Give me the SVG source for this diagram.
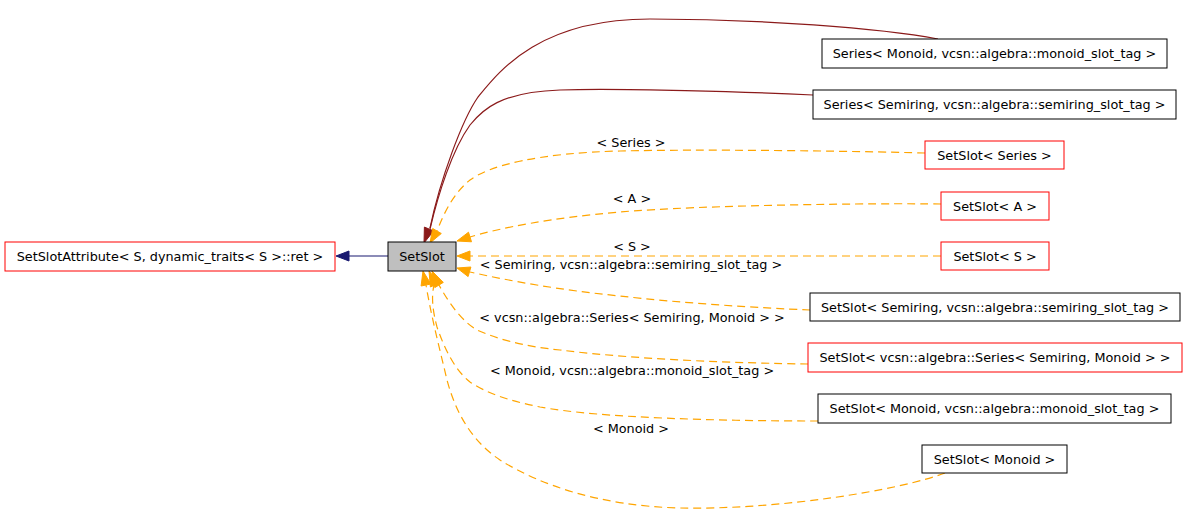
<svg xmlns="http://www.w3.org/2000/svg" width="1187" height="529" viewBox="0 0 1187 529">
<style>
text{font-family:"DejaVu Sans","Liberation Sans",sans-serif;font-size:12.8px;fill:#000;text-anchor:middle}
.nb{fill:#fff;stroke:#000;stroke-width:1}
.nr{fill:#fff;stroke:#ff0000;stroke-width:1}
.ng{fill:#bfbfbf;stroke:#000;stroke-width:1}
.eo{fill:none;stroke:#ffa500;stroke-width:1.2;stroke-dasharray:8,5}
.er{fill:none;stroke:#8b1a1a;stroke-width:1.2}
.en{fill:none;stroke:#191970;stroke-width:1.2}
.ao{fill:#ffa500;stroke:#ffa500}
.ar{fill:#8b1a1a;stroke:#8b1a1a}
.an{fill:#191970;stroke:#191970}
</style>
<rect width="1187" height="529" fill="#fff"/>
<g id="connectors">
<path class="en" d="M388,256 H349"/>
<polygon class="an" points="349,251 336,256 349,261"/>
<path class="er" d="M938,39 C880,28 760,19 650,19 C540,19 500,70 478,97 C462,120 440,180 430,228"/>
<path class="er" d="M813,95 C750,92 620,88 560,90 C500,92 482,110 470,125 C452,150 438,195 430,229"/>
<polygon class="ar" points="424.4,227.1 433.6,230.9 424,243"/>
<path class="eo" d="M925,153 C850,151 700,149 620,151 C540,153 490,165 470,180 C455,192 445,210 437,231"/>
<polygon class="ao" points="432.7,228.5 441.3,233.5 430,243"/>
<path class="eo" d="M941,204 C880,203 700,205 620,212 C550,218 500,228 470,237"/>
<polygon class="ao" points="468.5,232.2 471.5,241.8 457,241"/>
<path class="eo" d="M941,256 H470"/>
<polygon class="ao" points="470,251 457,256 470,261"/>
<path class="eo" d="M810,310 C760,308 680,303 620,296 C560,290 510,281 470,272"/>
<polygon class="ao" points="470.9,267 468.1,276.6 457,268"/>
<path class="eo" d="M808,364 C740,363 640,360 560,350 C520,346 495,338 477,330 C463,322 450,305 439,285"/>
<polygon class="ao" points="443.3,282.4 434.8,287.6 432,271"/>
<path class="eo" d="M818,421 C720,421 600,418 540,407 C505,400 485,392 470,382 C455,370 445,350 437,327 C433,312 431,298 434,285"/>
<polygon class="ao" points="439.6,283 430.4,287 429,271"/>
<path class="eo" d="M945,473 C900,490 780,510 680,508 C600,506 540,485 500,460 C470,440 455,410 447,380 C440,350 432,320 426,285"/>
<polygon class="ao" points="430.9,284 421.1,286 423,271"/>
<text x="631" y="146.5">&lt; Series &gt;</text>
<text x="632" y="202.5">&lt; A &gt;</text>
<text x="632" y="250.5">&lt; S &gt;</text>
<text x="631" y="268.5">&lt; Semiring, vcsn::algebra::semiring_slot_tag &gt;</text>
<text x="632" y="321.5">&lt; vcsn::algebra::Series&lt; Semiring, Monoid &gt; &gt;</text>
<text x="632" y="374.5">&lt; Monoid, vcsn::algebra::monoid_slot_tag &gt;</text>
<text x="631" y="432.5">&lt; Monoid &gt;</text>
</g>
<g id="node-SetSlotAttribute"><rect class="nr" x="5" y="242" width="330" height="29"/><text x="170" y="261">SetSlotAttribute&lt; S, dynamic_traits&lt; S &gt;::ret &gt;</text></g>
<g id="node-SetSlot"><rect class="ng" x="388" y="242" width="68" height="29"/><text x="422" y="261">SetSlot</text></g>
<g id="node-SeriesMonoid"><rect class="nb" x="822" y="39" width="345" height="29"/><text x="994.5" y="58">Series&lt; Monoid, vcsn::algebra::monoid_slot_tag &gt;</text></g>
<g id="node-SeriesSemiring"><rect class="nb" x="813" y="90" width="363" height="29"/><text x="994.5" y="109">Series&lt; Semiring, vcsn::algebra::semiring_slot_tag &gt;</text></g>
<g id="node-SetSlotSeries"><rect class="nr" x="925" y="141" width="139" height="28"/><text x="994.5" y="159.5">SetSlot&lt; Series &gt;</text></g>
<g id="node-SetSlotA"><rect class="nr" x="941" y="192" width="108" height="28"/><text x="995" y="210.5">SetSlot&lt; A &gt;</text></g>
<g id="node-SetSlotS"><rect class="nr" x="941" y="242" width="108" height="28"/><text x="995" y="260.5">SetSlot&lt; S &gt;</text></g>
<g id="node-SetSlotSemiringTag"><rect class="nb" x="810" y="293" width="370" height="28"/><text x="995" y="311.5">SetSlot&lt; Semiring, vcsn::algebra::semiring_slot_tag &gt;</text></g>
<g id="node-SetSlotVcsnSeries"><rect class="nr" x="808" y="343" width="374" height="29"/><text x="995" y="362">SetSlot&lt; vcsn::algebra::Series&lt; Semiring, Monoid &gt; &gt;</text></g>
<g id="node-SetSlotMonoidTag"><rect class="nb" x="818" y="394" width="353" height="29"/><text x="994.5" y="413">SetSlot&lt; Monoid, vcsn::algebra::monoid_slot_tag &gt;</text></g>
<g id="node-SetSlotMonoid"><rect class="nb" x="922" y="445" width="145" height="28"/><text x="994.5" y="463.5">SetSlot&lt; Monoid &gt;</text></g>
</svg>
